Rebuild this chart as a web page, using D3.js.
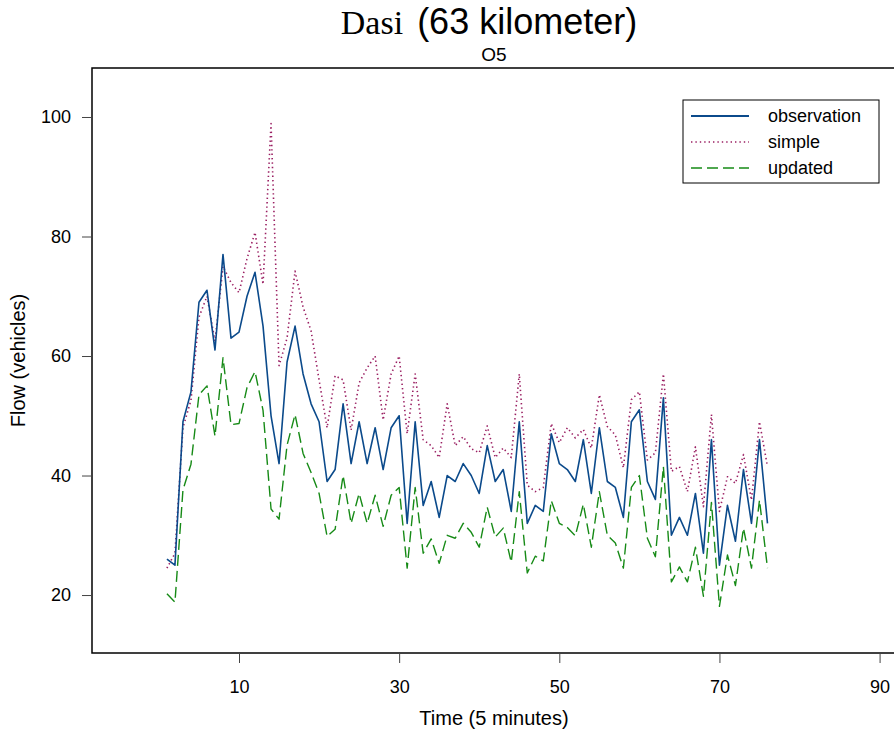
<!doctype html>
<html>
  <head>
    <meta charset="utf-8">
    <title>Dasi (63 kilometer) O5</title>
    <style>
      body { margin: 0; background: #fff; }
      text { font-family: "Liberation Sans", Arial, sans-serif; fill: #000; }
    </style>
    <script src="https://cdnjs.cloudflare.com/ajax/libs/d3/7.8.5/d3.min.js"></script>
  </head>
  <body>
    <div id="chart"></div>
    <script>
      // data, one value per 5-minute step (t = 1..76)
      const observation = [26, 25, 49, 54, 69, 71, 61, 77, 63, 64, 70, 74, 65, 50, 42, 59, 65, 57, 52, 49,
        39, 41, 52, 42, 49, 42, 48, 41, 48, 50, 32, 49, 35, 39, 33, 40, 39, 42, 40, 37,
        45, 39, 41, 34, 49, 32, 35, 34, 47, 42, 41, 39, 46, 37, 48, 39, 38, 33, 49, 51,
        39, 36, 53, 30, 33, 30, 37, 27, 46, 25, 35, 29, 41, 32, 46, 32];
      const simple = [24.5, 27, 48, 52.6, 66.5, 70, 62.5, 75, 72.3, 70.6, 76.3, 80.7, 72, 98.9, 58.4, 63, 74.2, 68.2, 64.2, 56,
        48, 56.7, 56, 47.6, 55.5, 58, 60, 49.3, 57, 60, 47, 57, 46, 45, 43, 52, 45, 46.5, 44.5, 43.8,
        48.3, 43, 44.6, 43, 57, 38.4, 37.3, 38, 48.7, 45.5, 48, 46.3, 47.7, 44.6, 53.5, 48.2, 46.8, 41.3, 52.7, 54,
        42.6, 43.8, 57, 40.7, 41.5, 37.3, 44.8, 34.8, 50.2, 34, 39.8, 38.7, 43.5, 35.9, 49, 41.5];
      const updated = [20.2, 18.8, 37.6, 41.9, 53.5, 55, 46.6, 59.7, 48.5, 48.7, 54.7, 57.4, 50.9, 34.4, 32.7, 45.1, 50.2, 43.7, 40.5, 37,
        29.8, 31, 40, 32, 37, 32, 36.7, 31.5, 36.7, 38, 24.5, 38, 27, 29.4, 25.3, 30, 29.5, 32, 30.5, 28,
        34.7, 29.7, 31.2, 25.5, 37.3, 23.7, 26.5, 25.7, 35.8, 32, 31.3, 29.9, 35.2, 28, 37.3, 30, 28.7, 24.5, 38, 40,
        29.5, 26.4, 41.5, 22.2, 24.7, 22.2, 28, 19.8, 35.5, 18.1, 26.7, 21.6, 31.2, 24.5, 35.9, 24.5];
      const xTicks = [10, 30, 50, 70, 90];
      const yTicks = [20, 40, 60, 80, 100];
      const seriesNames = ["observation", "simple", "updated"];

      const width = 894, height = 733;
      const box = { left: 92, top: 68, right: 896, bottom: 653 };

      const svg = d3.select('#chart')
        .append('svg')
        .attr('width', width)
        .attr('height', height);

      // scales (R-style padded limits)
      const x = d3.scaleLinear().domain([-8.36, 92.05]).range([box.left, box.right]);
      const y = d3.scaleLinear().domain([10.3, 108.2]).range([box.bottom, box.top]);

      // styles per series
      const styles = {
        observation: { color: "#0b4a8b", width: 1.6, dash: null },
        simple: { color: "#9a1f62", width: 1.6, dash: "1.4 3" },
        updated: { color: "#168a16", width: 1.4, dash: "11 5" }
      };
      const values = { observation: observation, simple: simple, updated: updated };

      // lines
      const line = d3.line()
        .x((d, i) => x(i + 1))
        .y(d => y(d));

      // draw order: updated, simple, then observation on top
      ["updated", "simple", "observation"].forEach(function(name) {
        svg.append('path')
          .datum(values[name])
          .attr('d', line)
          .attr('fill', 'none')
          .attr('stroke', styles[name].color)
          .attr('stroke-width', styles[name].width)
          .attr('stroke-dasharray', styles[name].dash)
          .attr('stroke-linejoin', 'round');
      });

      // plot box
      svg.append('rect')
        .attr('x', box.left).attr('y', box.top)
        .attr('width', box.right - box.left).attr('height', box.bottom - box.top)
        .attr('fill', 'none').attr('stroke', '#000').attr('stroke-width', 1.5);

      // x axis
      const xAxis = svg.append('g')
        .attr('transform', `translate(0,${box.bottom})`)
        .call(d3.axisBottom(x).tickValues(xTicks).tickSize(10).tickPadding(17));
      xAxis.select('.domain').remove();
      xAxis.selectAll('.tick line').attr('stroke', '#444');
      xAxis.selectAll('.tick text').attr('font-size', 18).attr('font-family', '"Liberation Sans", Arial');

      // y axis
      const yAxis = svg.append('g')
        .attr('transform', `translate(${box.left},0)`)
        .call(d3.axisLeft(y).tickValues(yTicks).tickSize(10).tickPadding(11));
      yAxis.select('.domain').remove();
      yAxis.selectAll('.tick line').attr('stroke', '#444');
      yAxis.selectAll('.tick text').attr('font-size', 18).attr('font-family', '"Liberation Sans", Arial');

      // axis titles
      svg.append('text')
        .attr('x', (box.left + box.right) / 2).attr('y', 725)
        .attr('text-anchor', 'middle').attr('font-size', 20)
        .text('Time (5 minutes)');
      svg.append('text')
        .attr('transform', `translate(25,${(box.top + box.bottom) / 2}) rotate(-90)`)
        .attr('text-anchor', 'middle').attr('font-size', 20)
        .text('Flow (vehicles)');

      // titles
      const title = svg.append('text')
        .attr('x', 489).attr('y', 34)
        .attr('text-anchor', 'middle');
      title.append('tspan')
        .style('font-family', '"Liberation Serif", "Times New Roman", serif')
        .attr('font-size', 34)
        .text('Dasi');
      title.append('tspan')
        .attr('dx', 14)
        .attr('font-size', 36)
        .text('(63 kilometer)');
      svg.append('text')
        .attr('x', (box.left + box.right) / 2).attr('y', 61)
        .attr('text-anchor', 'middle').attr('font-size', 19)
        .text('O5');

      // legend
      const legend = svg.append('g');
      legend.append('rect')
        .attr('x', 683).attr('y', 100).attr('width', 196).attr('height', 83)
        .attr('fill', '#fff').attr('stroke', '#000').attr('stroke-width', 1);
      seriesNames.forEach(function(name, i) {
        const ly = 116 + i * 26;
        legend.append('line')
          .attr('x1', 691).attr('x2', 749).attr('y1', ly).attr('y2', ly)
          .attr('stroke', styles[name].color)
          .attr('stroke-width', name === 'observation' ? 2 : 1.5)
          .attr('stroke-dasharray', styles[name].dash);
        legend.append('text')
          .attr('x', 768).attr('y', ly + 6)
          .attr('font-size', 18)
          .text(name);
      });
    </script>
  </body>
</html>
